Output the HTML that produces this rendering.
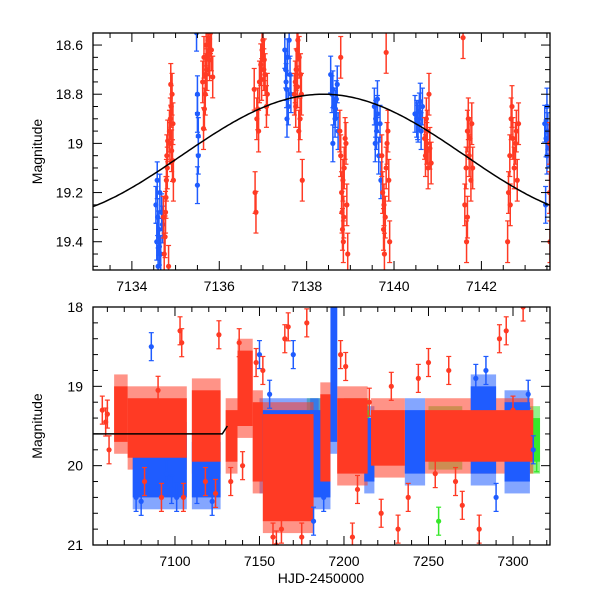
<!DOCTYPE html>
<html><head><meta charset="utf-8"><style>
body{margin:0;background:#fff}
svg{display:block;font-family:"Liberation Sans",sans-serif}
</style></head><body>
<svg id="chart" width="600" height="600" viewBox="0 0 600 600" xmlns="http://www.w3.org/2000/svg">
<defs>
<clipPath id="clipTop"><rect x="93" y="33" width="457" height="237"/></clipPath>
<clipPath id="clipBot"><rect x="93" y="307" width="457" height="238"/></clipPath>
</defs>
<g id="top"></g>
<g id="bot"></g>
</svg>
<script>
// ---------- top panel data ----------
const topRed = "7134.72 19.30,7134.74 19.45,7134.76 19.38,7134.78 19.22,7134.80 19.05,7134.79 19.15,7134.82 18.99,7134.81 19.10,7134.84 19.50,7134.77 19.28,7134.86 18.95,7134.88 18.90,7134.90 18.85,7134.92 18.80,7134.94 18.92,7134.91 19.03,7134.95 19.15,7134.89 18.76,7134.93 19.07,7134.87 19.00,7135.62 18.75,7135.65 18.65,7135.68 18.80,7135.70 18.60,7135.72 18.70,7135.75 18.57,7135.78 18.66,7135.80 18.55,7135.82 18.62,7135.64 18.94,7135.66 18.86,7135.85 18.73,7135.74 18.58,7135.69 18.72,7135.76 18.64,7136.80 18.78,7136.82 19.20,7136.84 19.28,7136.86 18.90,7136.88 18.86,7136.92 18.75,7136.95 18.68,7136.98 18.62,7137.00 18.58,7137.02 18.70,7137.05 18.72,7137.08 18.85,7137.10 18.80,7136.90 18.95,7137.03 18.66,7136.97 18.74,7137.72 18.80,7137.74 18.75,7137.76 18.70,7137.78 18.62,7137.80 18.58,7137.83 18.65,7137.86 18.72,7137.88 18.80,7137.85 18.90,7137.90 19.15,7137.75 18.85,7137.82 18.95,7137.79 18.77,7138.76 18.95,7138.78 19.05,7138.80 19.20,7138.82 19.35,7138.84 19.40,7138.86 19.10,7138.88 18.98,7138.90 19.00,7138.92 19.25,7138.94 19.45,7138.85 19.30,7138.78 18.65,7138.83 19.15,7138.81 19.28,7139.72 19.05,7139.74 19.20,7139.76 19.35,7139.78 19.45,7139.80 19.30,7139.82 19.10,7139.84 19.00,7139.86 18.95,7139.88 19.15,7139.90 19.40,7139.82 18.63,7139.77 19.25,7140.70 18.98,7140.72 19.05,7140.74 18.90,7140.76 18.95,7140.78 19.10,7140.80 18.80,7140.82 19.02,7140.85 19.08,7140.75 19.00,7141.62 19.25,7141.65 19.10,7141.68 18.95,7141.70 18.90,7141.72 19.05,7141.74 18.98,7141.76 19.15,7141.78 18.92,7141.80 19.10,7141.68 19.30,7141.58 18.57,7141.66 19.40,7142.62 19.20,7142.65 19.05,7142.68 18.90,7142.70 18.85,7142.72 18.98,7142.75 19.10,7142.78 19.00,7142.80 18.95,7142.82 19.15,7142.85 18.92,7142.66 19.25,7142.60 19.40,7143.56 19.00,7143.56 19.20,7143.57 19.40";
const topBlue = "7134.55 19.25,7134.57 19.40,7134.59 19.30,7134.60 19.50,7134.62 19.35,7134.64 19.20,7134.66 19.45,7134.68 19.28,7134.58 19.15,7134.63 19.42,7134.70 19.33,7134.61 19.38,7135.50 18.80,7135.50 18.88,7135.52 18.97,7135.52 19.05,7135.50 19.17,7135.48 18.55,7137.50 18.62,7137.52 18.70,7137.54 18.78,7137.56 18.65,7137.58 18.85,7137.60 18.58,7137.62 18.72,7137.64 18.80,7137.55 18.90,7137.53 18.75,7138.55 18.72,7138.58 18.80,7138.60 18.78,7138.62 18.85,7138.65 18.90,7138.68 18.82,7138.70 18.76,7138.72 18.95,7138.60 19.00,7138.66 18.86,7139.55 18.85,7139.58 18.90,7139.60 18.95,7139.62 18.88,7139.65 19.05,7139.68 18.92,7139.70 19.15,7139.62 18.82,7139.57 19.00,7140.48 18.88,7140.52 18.90,7140.55 18.92,7140.58 18.87,7140.62 18.95,7140.65 18.85,7140.60 18.83,7140.54 18.91,7143.45 18.92,7143.48 18.98,7143.50 19.05,7143.52 18.95,7143.55 19.02,7143.47 19.25,7143.50 18.85";
const topErr = 0.075;
const topXTicks = [7134, 7136, 7138, 7140, 7142];
const topYTicks = [18.6, 18.8, 19, 19.2, 19.4];
const topYLabels = ["18.6", "18.8", "19", "19.2", "19.4"];
const modelMean = [19.05], modelAmp = [0.25], modelPeak = [7138.38], modelPeriod = [13.0];

// ---------- bottom panel data ----------
const bandT0 = [7178,7200,7250,7300, 7075,7110,7150,7180,7192,7212,7236,7275,7295, 7064,7072,7110,7130,7137,7146,7152,7186,7196,7216,7248];
const bandT1 = [7190,7215,7270,7316, 7107,7127,7185,7192,7196,7218,7248,7290,7310, 7072,7107,7127,7137,7146,7152,7182,7192,7214,7236,7312];
const bandTop = [19.3,19.3,19.4,19.4, 19.6,19.7,19.3,19.3,18.0,19.4,19.3,19.0,19.2, 19.0,19.15,19.05,19.3,18.55,19.2,19.35,19.1,19.15,19.3,19.3];
const bandBot = [20.0,19.9,19.9,19.95, 20.4,20.4,20.2,20.4,19.7,20.2,20.1,20.1,20.2, 19.7,19.9,19.95,19.95,19.5,20.2,20.7,20.2,20.1,20.0,19.95];
const bandColor = ["g","g","g","g","b","b","b","b","b","b","b","b","b","r","r","r","r","r","r","r","r","r","r","r"];
const botPts = "7057 19.3 r,7059 19.45 r,7061 19.8 r,7060 19.35 r,7086 18.5 b,7080 20.45 b,7077 20.4 b,7092 20.4 r,7098 20.3 b,7101 20.4 b,7105 20.4 r,7104 18.45 r,7103 18.3 r,7090 19.05 r,7082 20.2 r,7095 20.1 b,7113 20.3 b,7118 20.2 r,7122 20.45 b,7124 20.35 r,7126 18.35 r,7133 20.2 r,7140 20.0 r,7138 18.45 r,7148 18.7 r,7150 18.6 b,7152 18.8 r,7156 19.1 b,7160 21.0 r,7163 20.8 r,7158 20.9 r,7165 18.4 r,7167 18.25 r,7170 18.6 b,7175 20.9 r,7178 18.2 r,7182 20.7 b,7188 20.4 b,7198 18.6 r,7201 18.75 r,7205 20.9 r,7208 20.3 r,7215 19.2 r,7222 20.6 r,7228 19.0 r,7232 20.8 r,7238 20.4 r,7244 18.9 r,7250 18.7 r,7254 20.1 r,7256 20.7 g,7262 18.8 r,7266 20.2 r,7270 20.5 r,7278 18.9 b,7280 20.8 r,7284 18.8 b,7290 20.4 b,7292 18.4 r,7296 18.3 r,7300 19.3 r,7306 18.0 r,7309 19.1 b,7312 19.8 b,7314 19.9 g";
const botXTicks = [7100, 7150, 7200, 7250, 7300];
const botYTicks = [18, 19, 20, 21];
const botYLabels = ["18", "19", "20", "21"];
const botModelT = [7051.5, 7128, 7131];
const botModelM = [19.6, 19.6, 19.5];

const COL = {r:"#ff3a24", b:"#1f5cff", g:"#36e82a"};
const NS = "http://www.w3.org/2000/svg";
function mk(tag, attrs, parent){const e=document.createElementNS(NS,tag);for(const k in attrs)e.setAttribute(k,attrs[k]);parent.appendChild(e);return e;}

function panel(g, x0, x1, y0, y1, tMin, tMax, mMin, mMax){
  return {
    x: t => x0 + (t - tMin) / (tMax - tMin) * (x1 - x0),
    y: m => y0 + (m - mMin) / (mMax - mMin) * (y1 - y0),
    x0, x1, y0, y1
  };
}
function axes(g, P, xt, xl, xMinorStep, yt, yl, yMinorStep, tMin, tMax, mMin, mMax){
  const ax = mk("g", {}, g);
  
  
  mk("rect",{x:P.x0,y:P.y0,width:P.x1-P.x0,height:P.y1-P.y0,fill:"none",stroke:"#000","stroke-width":1.3},ax);
  for(let t=Math.ceil(tMin/xMinorStep)*xMinorStep;t<=tMax;t+=xMinorStep){
    const major = xt.some(v=>Math.abs(v-t)<1e-6);
    const L = major?9:5, X=P.x(t);
    mk("line",{x1:X,x2:X,y1:P.y1,y2:P.y1-L,stroke:"#000","stroke-width":1},ax);
    mk("line",{x1:X,x2:X,y1:P.y0,y2:P.y0+L,stroke:"#000","stroke-width":1},ax);
  }
  for(let m=Math.ceil(mMin/yMinorStep-1e-6)*yMinorStep;m<=mMax+1e-9;m+=yMinorStep){
    const major = yt.some(v=>Math.abs(v-m)<1e-6);
    const L = major?9:5, Y=P.y(m);
    mk("line",{x1:P.x0,x2:P.x0+L,y1:Y,y2:Y,stroke:"#000","stroke-width":1},ax);
    mk("line",{x1:P.x1,x2:P.x1-L,y1:Y,y2:Y,stroke:"#000","stroke-width":1},ax);
  }
  xt.forEach((t,i)=>{
    const e=mk("text",{x:P.x(t),y:P.y1+21,"text-anchor":"middle","font-size":14},ax);
    
    
    e.textContent = xl[i];
  });
  yt.forEach((m,i)=>{
    const e=mk("text",{x:P.x0-10,y:P.y(m)+5,"text-anchor":"end","font-size":14},ax);
    
    
    e.textContent = yl[i];
  });
  const yl2=mk("text",{x:0,y:0,"text-anchor":"middle","font-size":14,transform:`translate(42,${(P.y0+P.y1)/2}) rotate(-90)`},ax);
  
  
  yl2.textContent="Magnitude";
}
function errPt(g, X, Y, e, c){
  mk("line",{x1:X,x2:X,y1:Y-e,y2:Y+e,stroke:c,"stroke-width":1.5},g);
  mk("line",{x1:X-2.5,x2:X+2.5,y1:Y-e,y2:Y-e,stroke:c,"stroke-width":1.2},g);
  mk("line",{x1:X-2.5,x2:X+2.5,y1:Y+e,y2:Y+e,stroke:c,"stroke-width":1.2},g);
  const d=mk("circle",{cx:X,cy:Y,r:2.6,fill:c},g);
  
  
}
function parse(s){return s.split(",").map(p=>p.trim().split(/\s+/));}

// ---------- TOP ----------
const gT = document.getElementById("top");
const tR=[7133.11,7143.57], mR=[18.551,19.515];
const PT = panel(gT,93,550,33,270,tR[0],tR[1],mR[0],mR[1]);
const dT = mk("g",{"clip-path":"url(#clipTop)"},gT);
let d="";
for(let i=0;i<=200;i++){
  const t=tR[0]+(tR[1]-tR[0])*i/200;
  const m=modelMean[0]-modelAmp[0]*Math.cos(2*Math.PI*(t-modelPeak[0])/modelPeriod[0]);
  d+=(i?"L":"M")+PT.x(t).toFixed(1)+","+PT.y(m).toFixed(1);
}
const bS=mk("g",{},dT);  
parse(topBlue).forEach(p=>errPt(bS,PT.x(+p[0]),PT.y(+p[1]),topErr*245,COL.b));
const rS=mk("g",{},dT);  
parse(topRed).forEach(p=>errPt(rS,PT.x(+p[0]),PT.y(+p[1]),(topErr+0.01)*245,COL.r));
const cv=mk("path",{d:d,fill:"none",stroke:"#000","stroke-width":1.5},dT);


axes(gT,PT,topXTicks,topXTicks.map(String),0.5,topYTicks,topYLabels,0.05,tR[0],tR[1],mR[0],mR[1]);

// ---------- BOTTOM ----------
const gB = document.getElementById("bot");
const tB=[7051.5,7321.9], mB=[18,21];
const PB = panel(gB,93,550,307,545,tB[0],tB[1],mB[0],mB[1]);
const dB = mk("g",{"clip-path":"url(#clipBot)"},gB);
const HALO = 0.15;
const haloG = mk("g",{},dB);
const coreG = mk("g",{},dB);
bandT0.forEach((t0,i)=>{
  const c = bandColor[i];
  const x=PB.x(t0), w=PB.x(bandT1[i])-x, y=PB.y(bandTop[i]), h=PB.y(bandBot[i])-y;
  const hy=PB.y(bandTop[i]-HALO), hh=PB.y(bandBot[i]+HALO)-hy;
  const hr=mk("rect",{x:x,y:hy,width:w,height:hh,fill:COL[c],opacity:0.55},haloG);
  
  
  const r=mk("rect",{x:x,y:y,width:w,height:h,fill:COL[c]},coreG);
  
  
});
parse(botPts).forEach(p=>errPt(dB,PB.x(+p[0]),PB.y(+p[1]),14,COL[p[2]]));
let d2="";
botModelT.forEach((t,i)=>{d2+=(i?"L":"M")+PB.x(t)+","+PB.y(botModelM[i]);});
const cv2=mk("path",{d:d2,fill:"none",stroke:"#000","stroke-width":1.5},dB);


axes(gB,PB,botXTicks,botXTicks.map(String),10,botYTicks,botYLabels,0.2,tB[0],tB[1],mB[0],mB[1]);
const xt=mk("text",{x:321,y:583,"text-anchor":"middle","font-size":14},gB);


xt.textContent="HJD-2450000";
</script>
</body></html>
